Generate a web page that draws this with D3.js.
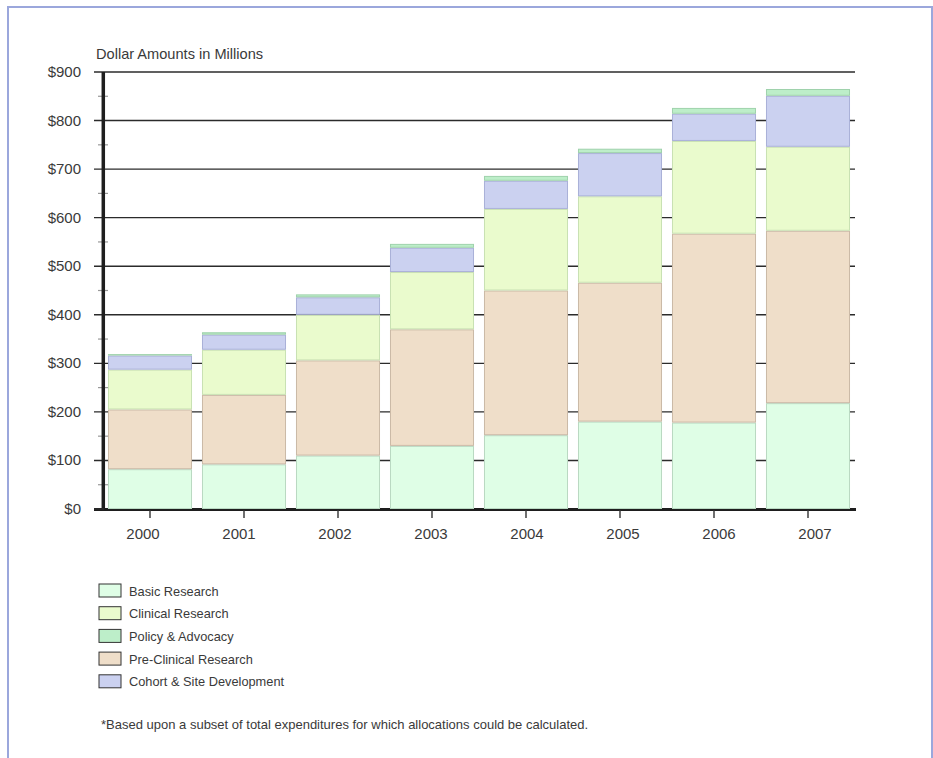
<!DOCTYPE html>
<html>
<head>
<meta charset="utf-8">
<script src="https://cdn.jsdelivr.net/npm/d3@7"></script>
<style>
  html, body { margin: 0; padding: 0; background: #fff; }
  svg { display: block; font-family: "Liberation Sans", Arial, Helvetica, sans-serif; }
</style>
</head>
<body>
<svg id="chart" width="933" height="758"></svg>
<script>
// Funding allocations by year, in millions of dollars
const years = ["2000", "2001", "2002", "2003", "2004", "2005", "2006", "2007"];
const basicResearch       = [82, 92, 110, 130, 152, 180, 178, 218];
const preClinicalResearch = [123, 143, 196, 240, 298, 286, 389, 355];
const clinicalResearch    = [82, 93, 94, 118, 168, 178, 191, 173];
const cohortSiteDev       = [29, 31, 36, 50, 58, 89, 56, 105];
const policyAdvocacy      = [3, 5, 6, 8, 10, 9, 12, 14];
const yTicks = [0, 100, 200, 300, 400, 500, 600, 700, 800, 900];

// stacking order, bottom to top
const seriesKeys = ["basic", "preclinical", "clinical", "cohort", "policy"];
const seriesInfo = {
  basic:       { name: "Basic Research",            values: basicResearch,       fill: "#dffee6", stroke: "#b9d9c2" },
  preclinical: { name: "Pre-Clinical Research",     values: preClinicalResearch, fill: "#efdec9", stroke: "#cbb9a6" },
  clinical:    { name: "Clinical Research",         values: clinicalResearch,    fill: "#eafbcd", stroke: "#c9e1b2" },
  cohort:      { name: "Cohort & Site Development", values: cohortSiteDev,       fill: "#cbd1f0", stroke: "#a9b0d8" },
  policy:      { name: "Policy & Advocacy",         values: policyAdvocacy,      fill: "#bdeec9", stroke: "#9fd2ac" }
};
const legendOrder = ["basic", "clinical", "policy", "preclinical", "cohort"];

const rows = years.map((yr, i) => {
  const r = { year: yr };
  seriesKeys.forEach(k => { r[k] = seriesInfo[k].values[i]; });
  return r;
});

const svg = d3.select("#chart");
const textColor = "#3a3a3a";

// page frame
svg.append("path")
  .attr("d", "M8,770 L8,7 L932,7 L932,770")
  .attr("fill", "none")
  .attr("stroke", "#9ba7dc")
  .attr("stroke-width", 2);

const x = d3.scaleBand()
  .domain(years)
  .range([103, 855])
  .paddingInner(0.106)
  .paddingOuter(0.053);

// year labels sit on a slightly wider spacing than the bars
const xLabel = d3.scalePoint()
  .domain(years)
  .range([143, 815]);

const y = d3.scaleLinear()
  .domain([0, 900])
  .range([509, 72]);

const stack = d3.stack().keys(seriesKeys);
const stacked = stack(rows);

// gridlines with major ticks
svg.append("g")
  .selectAll("line")
  .data(yTicks.filter(t => t > 0))
  .join("line")
  .attr("x1", 94).attr("x2", 855)
  .attr("y1", d => y(d)).attr("y2", d => y(d))
  .attr("stroke", "#2b2b2b")
  .attr("stroke-width", 1.4);

// minor ticks at the half-hundreds
svg.append("g")
  .selectAll("line")
  .data(d3.range(50, 900, 100))
  .join("line")
  .attr("x1", 98).attr("x2", 108)
  .attr("y1", d => y(d)).attr("y2", d => y(d))
  .attr("stroke", "#999")
  .attr("stroke-width", 1.2);

// x axis baseline
svg.append("line")
  .attr("x1", 94).attr("x2", 856)
  .attr("y1", y(0) + 0.5).attr("y2", y(0) + 0.5)
  .attr("stroke", "#1e1e1e")
  .attr("stroke-width", 3);

// stacked bars
svg.append("g")
  .selectAll("g")
  .data(stacked)
  .join("g")
  .attr("fill", d => seriesInfo[d.key].fill)
  .attr("stroke", d => seriesInfo[d.key].stroke)
  .selectAll("rect")
  .data(d => d)
  .join("rect")
  .attr("x", d => x(d.data.year) + 0.5)
  .attr("width", x.bandwidth() - 1)
  .attr("y", d => y(d[1]) + 0.5)
  .attr("height", d => Math.max(0, y(d[0]) - y(d[1]) - 1))
  .attr("stroke-width", 1);

// y axis
svg.append("line")
  .attr("x1", 103.3).attr("x2", 103.3)
  .attr("y1", 72).attr("y2", 511)
  .attr("stroke", "#1e1e1e")
  .attr("stroke-width", 3.5);

// y zero tick
svg.append("line")
  .attr("x1", 94).attr("x2", 104)
  .attr("y1", y(0)).attr("y2", y(0))
  .attr("stroke", "#2b2b2b")
  .attr("stroke-width", 1.4);

// y tick labels
svg.append("g")
  .selectAll("text")
  .data(yTicks)
  .join("text")
  .attr("x", 81)
  .attr("y", d => y(d) + 5)
  .attr("text-anchor", "end")
  .attr("font-size", 15)
  .attr("fill", textColor)
  .text(d => "$" + d);

// x ticks
svg.append("g")
  .selectAll("line")
  .data(years)
  .join("line")
  .attr("x1", d => x(d) + x.bandwidth() / 2)
  .attr("x2", d => x(d) + x.bandwidth() / 2)
  .attr("y1", 510).attr("y2", 518)
  .attr("stroke", "#333")
  .attr("stroke-width", 1.4);

// x labels
svg.append("g")
  .selectAll("text")
  .data(years)
  .join("text")
  .attr("x", d => xLabel(d))
  .attr("y", 539)
  .attr("text-anchor", "middle")
  .attr("font-size", 15)
  .attr("fill", textColor)
  .text(d => d);

// axis caption
svg.append("text")
  .attr("x", 96).attr("y", 59)
  .attr("font-size", 14.6)
  .attr("fill", textColor)
  .text("Dollar Amounts in Millions");

// legend
const lg = svg.append("g")
  .selectAll("g")
  .data(legendOrder)
  .join("g")
  .attr("transform", (d, i) => `translate(99,${584 + i * 22.7})`);
lg.append("rect")
  .attr("width", 22).attr("height", 13)
  .attr("fill", d => seriesInfo[d].fill)
  .attr("stroke", "#333")
  .attr("stroke-width", 1);
lg.append("text")
  .attr("x", 30).attr("y", 11.5)
  .attr("font-size", 12.8)
  .attr("fill", textColor)
  .text(d => seriesInfo[d].name);

// footnote
svg.append("text")
  .attr("x", 101).attr("y", 729)
  .attr("font-size", 13)
  .attr("fill", textColor)
  .text("*Based upon a subset of total expenditures for which allocations could be calculated.");
</script>
</body>
</html>
